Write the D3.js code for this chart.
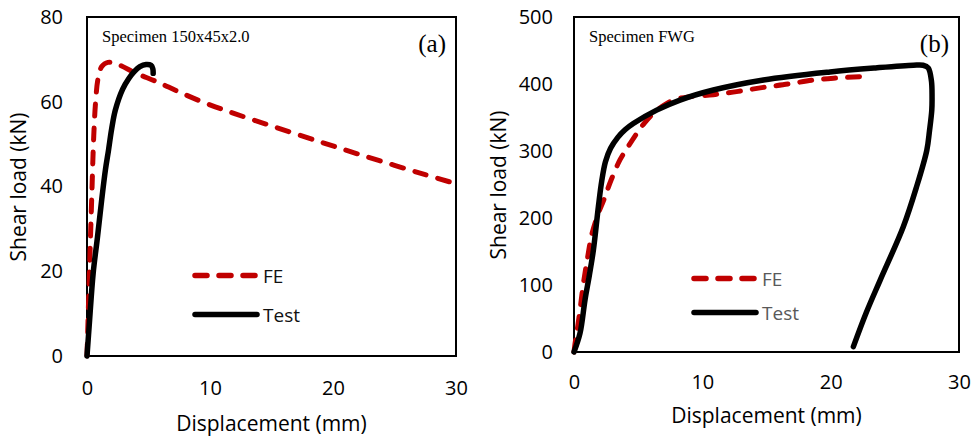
<!DOCTYPE html>
<html>
<head>
<meta charset="utf-8">
<script src="https://cdn.jsdelivr.net/npm/d3@7"></script>
<style>
html,body{margin:0;padding:0;background:#fff;}
svg{display:block;}
</style>
</head>
<body>
<svg id="chart" width="974" height="438"></svg>
<script>
// ---------- DATA ----------
// Panel (a): Specimen 150x45x2.0
const aFE_x   = [0, 0.1, 0.2, 0.38, 0.55, 0.7, 0.9, 1.2, 1.7, 2.5, 4.0, 5.7, 7.5, 9.7, 12, 15, 18.9, 22, 25, 27.5, 29.6];
const aFE_y   = [0, 10, 20, 37, 52, 60, 65.5, 68.3, 69.3, 68.8, 66.7, 64.7, 62.3, 59.6, 57.2, 54.3, 50.6, 47.7, 45.0, 42.8, 41.0];
const aTest_x = [0, 0.2, 0.5, 0.85, 1.2, 1.5, 1.75, 2.0, 2.3, 2.9, 3.4, 3.8, 4.3, 4.8, 5.2, 5.35, 5.38];
const aTest_y = [0, 8, 19.5, 28, 37, 44, 48.6, 53.5, 58, 63, 65.5, 67, 68.3, 68.8, 68.6, 67.8, 66.7];
// Panel (b): Specimen FWG
const bFE_x   = [0, 0.1, 0.21, 0.45, 0.73, 1.05, 1.38, 1.9, 2.3, 2.9, 3.59, 4.2, 4.88, 5.5, 6.18, 6.9, 7.74, 9.0, 10.86, 12.8, 14.76, 16.7, 18.66, 20.5, 22.3];
const bFE_y   = [0, 15, 28, 60, 102, 140, 175, 207, 226, 257, 287, 306, 326, 342, 356, 367, 376, 381, 384, 389, 395, 400, 406, 409, 411];
const bTest_x = [0, 0.47, 0.86, 1.2, 1.51, 1.9, 2.16, 2.45, 2.85, 3.4, 4.0, 4.62, 6.44, 8.26, 10.86, 14.76, 19.95, 23.5, 26.45, 27.2, 27.6, 27.85, 27.9, 27.88, 27.7, 27.49, 26.7, 25.66, 23.85, 22.8, 21.77];
const bTest_y = [0, 28, 78, 115, 152, 217, 255, 284, 304, 320, 332, 341, 361, 376, 391, 406, 418, 424, 428, 428, 424, 405, 380, 361, 330, 301, 247, 187, 107, 60, 8];

const xTicks  = [0, 10, 20, 30];
const aYTicks = [0, 20, 40, 60, 80];
const bYTicks = [0, 100, 200, 300, 400, 500];
const seriesNames = ["FE", "Test"];
const xTitle = "Displacement (mm)";
const yTitle = "Shear load (kN)";
const aLabel = "Specimen 150x45x2.0";
const bLabel = "Specimen FWG";

// ---------- DRAW ----------
const svg = d3.select("#chart");
const RED = "#c00000";
const sansFont = "'Open Sans', sans-serif";
const serifFont = "'Liberation Serif', 'Times New Roman', serif";

function zip(xs, ys){ return xs.map((x,i)=>[x, ys[i]]); }

function panel(cfg){
  const g = svg.append("g");
  const x = d3.scaleLinear().domain([0,30]).range([cfg.left, cfg.right]);
  const y = d3.scaleLinear().domain([0, cfg.ymax]).range([cfg.bottom, cfg.top]);

  const ya = g.append("g").attr("transform", `translate(${cfg.left},0)`)
    .call(d3.axisLeft(y).tickValues(cfg.yticks).tickSize(0).tickPadding(cfg.ypad));
  ya.select(".domain").remove();
  ya.selectAll("text").attr("font-family", sansFont).attr("font-size", 20).attr("fill", "#000");

  const xa = g.append("g").attr("transform", `translate(0,${cfg.bottom})`)
    .call(d3.axisBottom(x).tickValues(xTicks).tickSize(0));
  xa.select(".domain").remove();
  xa.selectAll("text").attr("font-family", sansFont).attr("font-size", 20).attr("fill", "#000")
    .attr("dy", null).attr("y", cfg.xpad).attr("dominant-baseline", "central");

  g.append("rect").attr("x", cfg.left).attr("y", cfg.top)
    .attr("width", cfg.right - cfg.left).attr("height", cfg.bottom - cfg.top)
    .attr("fill", "none").attr("stroke", "#000").attr("stroke-width", 2);

  g.append("text").attr("x", (cfg.left + cfg.right)/2).attr("y", cfg.xTitleY)
    .attr("text-anchor", "middle").attr("dominant-baseline", "central")
    .attr("font-family", sansFont).attr("font-size", 21).attr("fill", "#000").text(xTitle);
  g.append("text").attr("transform", `translate(${cfg.yTitleX},${cfg.yTitleY}) rotate(-90)`)
    .attr("text-anchor", "middle").attr("dominant-baseline", "central")
    .attr("font-family", sansFont).attr("font-size", 21).attr("fill", "#000").text(yTitle);

  g.append("text").attr("x", cfg.left + 15).attr("y", 36)
    .attr("dominant-baseline", "central")
    .attr("font-family", serifFont).attr("font-size", 16.5).attr("fill", "#000").text(cfg.label);
  g.append("text").attr("x", cfg.right - 10).attr("y", 43)
    .attr("text-anchor", "end").attr("dominant-baseline", "central")
    .attr("font-family", serifFont).attr("font-size", 25).attr("fill", "#000").text(cfg.tag);

  const line = d3.line().x(d=>x(d[0])).y(d=>y(d[1])).curve(d3.curveCatmullRom.alpha(0.5));

  g.append("path").datum(cfg.fe).attr("d", line)
    .attr("fill", "none").attr("stroke", RED).attr("stroke-width", 5)
    .attr("stroke-dasharray", "12,12").attr("stroke-linecap", "round").attr("stroke-linejoin", "round");
  g.append("path").datum(cfg.test).attr("d", line)
    .attr("fill", "none").attr("stroke", "#000").attr("stroke-width", 5.5)
    .attr("stroke-linecap", "round").attr("stroke-linejoin", "round");

  const lg = g.append("g");
  lg.append("line").attr("x1", cfg.legX).attr("x2", cfg.legX + 60)
    .attr("y1", cfg.legY1).attr("y2", cfg.legY1)
    .attr("stroke", RED).attr("stroke-width", 5.5).attr("stroke-linecap", "round")
    .attr("stroke-dasharray", "12,12");
  lg.append("line").attr("x1", cfg.legX).attr("x2", cfg.legX + 62)
    .attr("y1", cfg.legY2).attr("y2", cfg.legY2)
    .attr("stroke", "#000").attr("stroke-width", 5.5).attr("stroke-linecap", "round");
  lg.append("text").attr("x", cfg.legX + 68).attr("y", cfg.legY1)
    .attr("dominant-baseline", "central").attr("font-family", sansFont).attr("font-size", 19)
    .attr("fill", cfg.legColor).text(seriesNames[0]);
  lg.append("text").attr("x", cfg.legX + 68).attr("y", cfg.legY2)
    .attr("dominant-baseline", "central").attr("font-family", sansFont).attr("font-size", 19)
    .attr("fill", cfg.legColor).text(seriesNames[1]);
}

panel({
  left: 87, right: 456, top: 17, bottom: 356, ymax: 80, yticks: aYTicks,
  ypad: 24, xpad: 31, xTitleY: 423, yTitleX: 18, yTitleY: 187,
  label: aLabel, tag: "(a)",
  fe: zip(aFE_x, aFE_y), test: zip(aTest_x, aTest_y),
  legX: 195, legY1: 275.5, legY2: 314.5, legColor: "#111"
});
panel({
  left: 574, right: 959, top: 17, bottom: 352, ymax: 500, yticks: bYTicks,
  ypad: 21, xpad: 29, xTitleY: 415, yTitleX: 498, yTitleY: 185,
  label: bLabel, tag: "(b)",
  fe: zip(bFE_x, bFE_y), test: zip(bTest_x, bTest_y),
  legX: 694, legY1: 278.5, legY2: 312.5, legColor: "#595959"
});
</script>
</body>
</html>
